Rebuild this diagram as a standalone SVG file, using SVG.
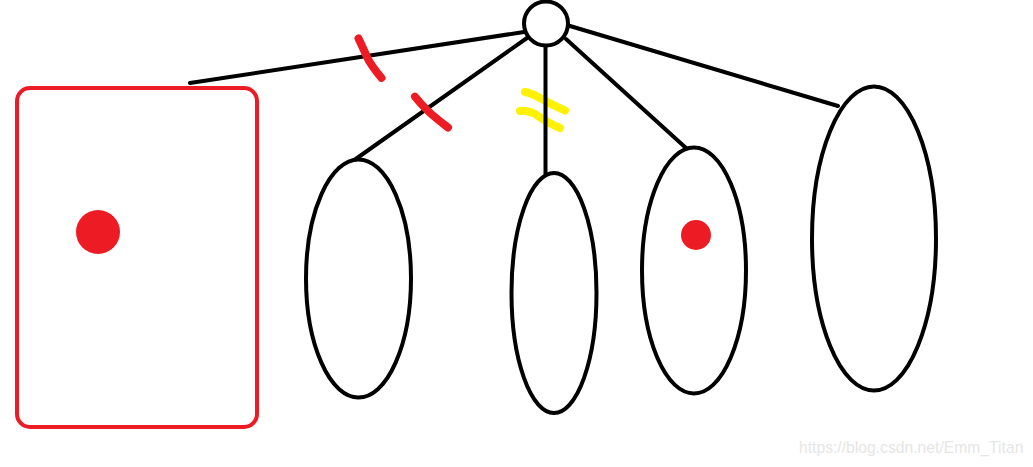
<svg xmlns="http://www.w3.org/2000/svg" width="1033" height="467" viewBox="0 0 1033 467">
<style>
.edge{stroke:#000;stroke-width:4;fill:none;stroke-linecap:round}
.node{stroke:#000;stroke-width:4;fill:#fff}
.red{stroke:#ed1c24;stroke-width:8;fill:none;stroke-linecap:round;stroke-linejoin:round}
.yel{stroke:#fff200;stroke-width:8;fill:none;stroke-linecap:round;stroke-linejoin:round}
.dot{fill:#ed1c24}
.wm{font-family:"Liberation Sans",Arial,sans-serif;font-size:15.7px;fill:#e6e6e6}
</style>
<rect width="1033" height="467" fill="#fff"/>
<g id="marks-under">
<path class="yel" d="M525,92 Q531,93 540,98 Q552,105 565,110.5"/>
<path class="yel" d="M520,111 Q527,110 535,114 Q548,123 560,128"/>
</g>
<g id="connectors">
<line class="edge" x1="190" y1="83" x2="524" y2="32"/>
<line class="edge" x1="527" y1="38" x2="343" y2="168"/>
<line class="edge" x1="545.5" y1="46" x2="545.5" y2="174"/>
<line class="edge" x1="566" y1="39" x2="686" y2="148"/>
<line class="edge" x1="570" y1="26" x2="838" y2="106"/>
</g>
<g id="marks">
<path class="red" d="M358.5,38.5 Q364,50 367,57 T381.5,78"/>
<path class="red" d="M415,96.7 Q421,104 427,110 T448,127.5"/>
</g>
<g id="root"><circle class="node" cx="546" cy="23.5" r="22"/></g>
<g id="box">
<rect x="17" y="88" width="240" height="339" rx="13" fill="none" stroke="#ed1c24" stroke-width="4"/>
<circle class="dot" cx="98" cy="232" r="22"/>
</g>
<g id="e1"><ellipse class="node" cx="358.5" cy="278.5" rx="52.5" ry="119"/></g>
<g id="e2"><ellipse class="node" cx="554" cy="293" rx="42.5" ry="120"/></g>
<g id="e3"><ellipse class="node" cx="694" cy="270.5" rx="52" ry="123"/>
<circle class="dot" cx="696" cy="235" r="15"/></g>
<g id="e4"><ellipse class="node" cx="874" cy="238.5" rx="62" ry="152"/></g>
<text class="wm" x="799" y="453">https://blog.csdn.net/Emm_Titan</text>
</svg>
